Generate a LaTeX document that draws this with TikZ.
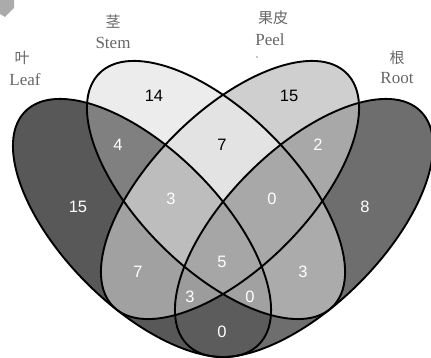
\documentclass[tikz,border=0pt]{standalone}
\usepackage{fontspec}
\setmainfont{Liberation Serif}
\setsansfont{Liberation Sans}
\newfontfamily\cjk{Noto Sans CJK SC}
\usetikzlibrary{calc}

%region greys
\definecolor{cL}{gray}{0.345}
\definecolor{cS}{gray}{0.925}
\definecolor{cP}{gray}{0.81}
\definecolor{cR}{gray}{0.43}
\definecolor{cLS}{gray}{0.5}
\definecolor{cLP}{gray}{0.63}
\definecolor{cLR}{gray}{0.36}
\definecolor{cSP}{gray}{0.89}
\definecolor{cSR}{gray}{0.67}
\definecolor{cPR}{gray}{0.66}
\definecolor{cLSP}{gray}{0.74}
\definecolor{cLSR}{gray}{0.63}
\definecolor{cLPR}{gray}{0.61}
\definecolor{cSPR}{gray}{0.66}
\definecolor{cLSPR}{gray}{0.65}

\newcommand{\leafclip}{\clip[rotate around={-45:(L)}] (L) ellipse (165pt and 78pt);}
\newcommand{\stemclip}{\clip[rotate around={-45:(S)}] (S) ellipse (165pt and 78pt);}
\newcommand{\peelclip}{\clip[rotate around={45:(P)}] (P) ellipse (165pt and 78pt);}
\newcommand{\rootclip}{\clip[rotate around={45:(R)}] (R) ellipse (165pt and 78pt);}
\newcommand{\regionfill}[1]{\fill[#1] (0,0) rectangle (431,358);}

\begin{document}
\begin{tikzpicture}[x=1pt,y=1pt,
	setlabel/.style={text=black!60,font=\fontsize{17}{17}\selectfont,inner sep=0pt},
	cjklabel/.style={text=black!60,font=\cjk\fontsize{15}{15}\selectfont,inner sep=0pt},
	count/.style={text=white,font=\sffamily\fontsize{16.5}{16.5}\selectfont,inner sep=0pt},
	countdark/.style={count,text=black},
	outline/.style={line width=1.9pt}]
	
	\useasboundingbox (0,0) rectangle (431,358);
	
	%corner mark
	\fill[black!33] (0,358)--(14,358)--(14,350)--(5,341)--(0,344)--cycle;
	
	%ellipse centres
	\coordinate (L) at (142,130);
	\coordinate (S) at (216,168);
	\coordinate (P) at (230,168);
	\coordinate (R) at (304,130);
	
	%single sets
	\fill[cL,rotate around={-45:(L)}] (L) ellipse (165pt and 78pt);
	\fill[cS,rotate around={-45:(S)}] (S) ellipse (165pt and 78pt);
	\fill[cP,rotate around={45:(P)}] (P) ellipse (165pt and 78pt);
	\fill[cR,rotate around={45:(R)}] (R) ellipse (165pt and 78pt);
	
	%pairs
	\begin{scope} \leafclip\stemclip \regionfill{cLS} \end{scope}
	\begin{scope} \leafclip\peelclip \regionfill{cLP} \end{scope}
	\begin{scope} \leafclip\rootclip \regionfill{cLR} \end{scope}
	\begin{scope} \stemclip\peelclip \regionfill{cSP} \end{scope}
	\begin{scope} \stemclip\rootclip \regionfill{cSR} \end{scope}
	\begin{scope} \peelclip\rootclip \regionfill{cPR} \end{scope}
	
	%triples
	\begin{scope} \leafclip\stemclip\peelclip \regionfill{cLSP} \end{scope}
	\begin{scope} \leafclip\stemclip\rootclip \regionfill{cLSR} \end{scope}
	\begin{scope} \leafclip\peelclip\rootclip \regionfill{cLPR} \end{scope}
	\begin{scope} \stemclip\peelclip\rootclip \regionfill{cSPR} \end{scope}
	
	%all four
	\begin{scope} \leafclip\stemclip\peelclip\rootclip \regionfill{cLSPR} \end{scope}
	
	%outlines
	\draw[outline,rotate around={-45:(L)}] (L) ellipse (165pt and 78pt);
	\draw[outline,rotate around={-45:(S)}] (S) ellipse (165pt and 78pt);
	\draw[outline,rotate around={45:(P)}] (P) ellipse (165pt and 78pt);
	\draw[outline,rotate around={45:(R)}] (R) ellipse (165pt and 78pt);
	
	%set names
	\node[cjklabel] (leafzh) at (22,300) {叶};
	\node[setlabel] (leafen) at (25,278) {Leaf};
	\node[cjklabel] (stemzh) at (113,336) {茎};
	\node[setlabel] (stemen) at (113,315) {Stem};
	\node[cjklabel] (peelzh) at (273,340) {果皮};
	\node[setlabel] (peelen) at (270,318) {Peel};
	\fill[black!45] (257,301) circle (0.8pt);
	\node[cjklabel] (rootzh) at (397,300) {根};
	\node[setlabel] (rooten) at (397,280) {Root};
	
	%counts, one set
	\node[count]     (nL)  at (78,151)  {15};
	\node[countdark] (nS)  at (154,262) {14};
	\node[countdark] (nP)  at (289,262) {15};
	\node[count]     (nR)  at (365,151) {8};
	
	%counts, two sets
	\node[count]     (nLS) at (118,213) {4};
	\node[countdark] (nSP) at (222,213) {7};
	\node[count]     (nPR) at (318,213) {2};
	\node[count]     (nLP) at (138,86)  {7};
	\node[count]     (nSR) at (303,86)  {3};
	\node[count]     (nLR) at (222,26)  {0};
	
	%counts, three and four sets
	\node[count] (nLSP)  at (171,159) {3};
	\node[count] (nSPR)  at (272,159) {0};
	\node[count] (nLPR)  at (190,61)  {3};
	\node[count] (nLSR)  at (250,61)  {0};
	\node[count] (nLSPR) at (222,96)  {5};
	
\end{tikzpicture}
\end{document}
